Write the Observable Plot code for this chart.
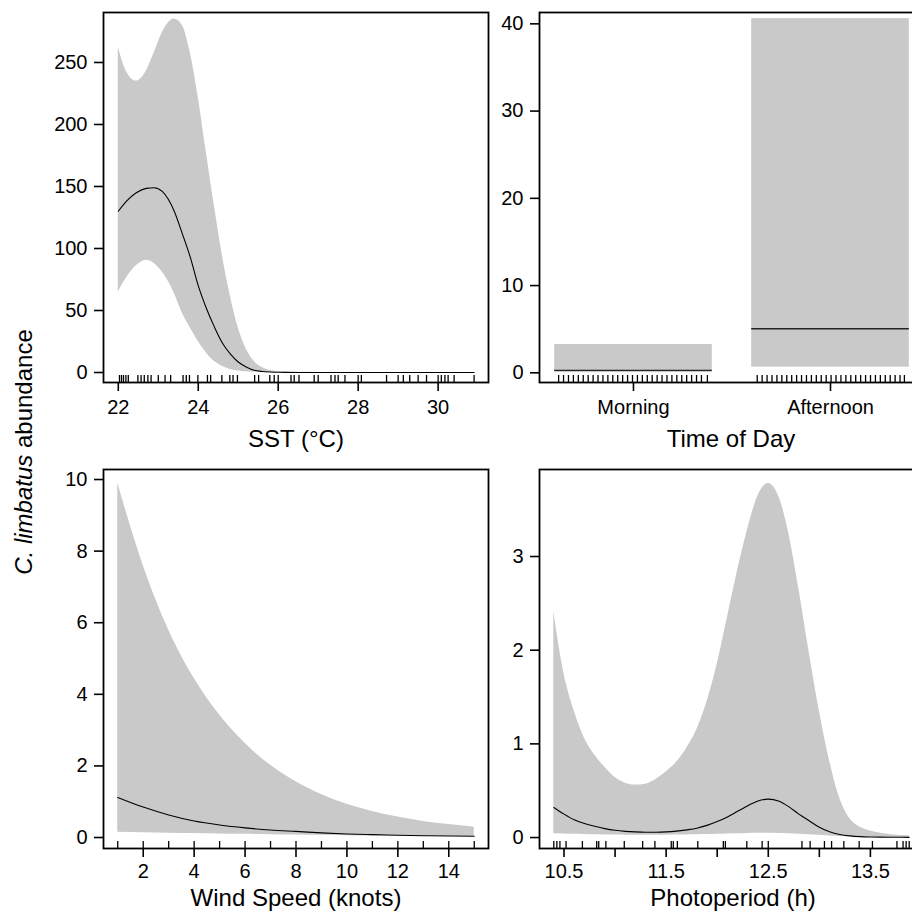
<!DOCTYPE html>
<html>
<head>
<meta charset="utf-8">
<script src="https://cdn.jsdelivr.net/npm/d3@7"></script>
<script src="https://cdn.jsdelivr.net/npm/@observablehq/plot@0.6"></script>
<style>
html, body { margin: 0; padding: 0; background: #fff; overflow: hidden; }
#fig { position: relative; width: 912px; height: 916px; overflow: hidden; background: #fff;
       font-family: "Liberation Sans", Arial, Helvetica, sans-serif; }
#fig svg { position: absolute; max-width: none !important; }
#fig g[aria-label="x-axis tick"] path, #fig g[aria-label="y-axis tick"] path { stroke-width: 1.6px; }
</style>
</head>
<body>
<div id="fig"></div>
<script>
// ---------------- DATA ----------------
// Panel 1: SST (°C)
const sstX     = [22.0, 22.2, 22.45, 22.7, 22.9, 23.1, 23.4, 23.6, 23.8, 24.0, 24.2, 24.4, 24.6, 24.8, 25.0, 25.2, 25.4, 25.6, 25.8, 26.0, 26.5, 27.0, 28.0, 29.0, 30.0, 30.9];
const sstFit   = [130, 138, 145, 148.5, 149, 146, 130, 112, 93, 70, 52, 37, 24, 15, 8.5, 4.5, 1.8, 0.8, 0.35, 0.15, 0.05, 0.02, 0, 0, 0, 0];
const sstLower = [65, 76, 86, 90.5, 88, 81, 64, 48, 36, 25, 16, 9, 5, 2.5, 1.2, 0.6, 0.3, 0.12, 0.05, 0.02, 0, 0, 0, 0, 0, 0];
const sstUpper = [262, 243, 235, 243, 258, 274, 285, 280, 258, 222, 178, 135, 95, 62, 36, 19, 9, 4, 1.6, 0.7, 0.15, 0.05, 0.02, 0.02, 0.02, 0.02];
const sstRug   = [22.03, 22.08, 22.13, 22.19, 22.25, 22.49, 22.57, 22.65, 22.74, 22.82, 23.00, 23.17, 23.31, 23.62, 23.70, 23.78, 23.99,
                  24.23, 24.31, 24.59, 24.79, 24.87, 24.98, 25.41, 25.51, 25.79, 25.90, 26.00, 26.32, 26.40, 26.52, 26.90, 27.00,
                  27.32, 27.42, 27.50, 27.67, 28.00, 28.08, 28.71, 29.00, 29.13, 29.29, 29.50, 29.71, 30.00, 30.08, 30.17, 30.25, 30.40, 30.90];
const sstXTicks = [22, 24, 26, 28, 30];
const sstYTicks = [0, 50, 100, 150, 200, 250];

// Panel 2: Time of Day
const todLevels = ["Morning", "Afternoon"];
const todFit    = [0.27, 5.05];
const todLower  = [0.02, 0.65];
const todUpper  = [3.25, 40.6];
const todRug    = [0.62, 0.645, 0.67, 0.695, 0.72, 0.745, 0.77, 0.795, 0.82, 0.845, 0.87, 0.895, 0.92, 0.945, 0.97, 0.995,
                   1.02, 1.045, 1.07, 1.095, 1.12, 1.145, 1.17, 1.195, 1.22, 1.245, 1.27, 1.295, 1.32, 1.345, 1.375,
                   1.628, 1.653, 1.678, 1.703, 1.728, 1.753, 1.778, 1.803, 1.828, 1.853, 1.878, 1.903, 1.928, 1.953, 1.978,
                   2.003, 2.028, 2.053, 2.078, 2.103, 2.128, 2.153, 2.178, 2.203, 2.228, 2.253, 2.278, 2.303, 2.328, 2.353, 2.375];
const todYTicks = [0, 10, 20, 30, 40];

// Panel 3: Wind Speed (knots)
const windX     = [1, 2, 3, 4, 5, 6, 7, 8, 9, 10, 11, 12, 13, 14, 15];
const windFit   = [1.12, 0.85, 0.63, 0.46, 0.35, 0.27, 0.21, 0.17, 0.13, 0.10, 0.08, 0.065, 0.05, 0.042, 0.035];
const windLower = [0.15, 0.135, 0.12, 0.11, 0.10, 0.09, 0.08, 0.07, 0.06, 0.052, 0.045, 0.038, 0.03, 0.025, 0.02];
const windUpper = [9.9, 7.6, 5.8, 4.45, 3.42, 2.63, 2.02, 1.56, 1.2, 0.93, 0.73, 0.57, 0.45, 0.36, 0.29];
const windRug   = [1, 2, 3, 4, 5, 6, 7, 8, 9, 10, 11, 12, 13, 14, 15];
const windXTicks = [2, 4, 6, 8, 10, 12, 14];
const windYTicks = [0, 2, 4, 6, 8, 10];

// Panel 4: Photoperiod (h)
const photoX     = [10.4, 10.5, 10.6, 10.7, 10.8, 10.9, 11.0, 11.1, 11.2, 11.3, 11.4, 11.5, 11.6, 11.7, 11.8, 11.9, 12.0, 12.1,
                    12.2, 12.3, 12.4, 12.5, 12.6, 12.7, 12.8, 12.9, 13.0, 13.1, 13.2, 13.3, 13.4, 13.5, 13.6, 13.7, 13.88];
const photoFit   = [0.32, 0.25, 0.19, 0.15, 0.12, 0.095, 0.077, 0.066, 0.06, 0.057, 0.057, 0.06, 0.068, 0.082, 0.10, 0.13, 0.17, 0.22,
                    0.28, 0.34, 0.39, 0.41, 0.39, 0.33, 0.25, 0.18, 0.11, 0.062, 0.033, 0.018, 0.010, 0.006, 0.004, 0.003, 0.002];
const photoLower = [0.04, 0.038, 0.035, 0.033, 0.03, 0.028, 0.026, 0.025, 0.025, 0.025, 0.025, 0.025, 0.026, 0.028, 0.03, 0.032, 0.035, 0.038,
                    0.04, 0.043, 0.045, 0.045, 0.043, 0.04, 0.035, 0.03, 0.024, 0.017, 0.012, 0.008, 0.005, 0.003, 0.002, 0.0015, 0.001];
const photoUpper = [2.41, 1.75, 1.35, 1.06, 0.88, 0.75, 0.64, 0.58, 0.56, 0.57, 0.62, 0.70, 0.80, 0.95, 1.15, 1.45, 1.85, 2.35,
                    2.85, 3.30, 3.65, 3.78, 3.65, 3.25, 2.65, 1.98, 1.35, 0.82, 0.42, 0.20, 0.11, 0.07, 0.045, 0.03, 0.02];
const photoRug   = [10.40, 10.43, 10.46, 10.52, 10.68, 10.82, 10.84, 10.91, 11.09, 11.27, 11.39, 11.55, 11.57, 11.61, 11.81, 12.06, 12.08,
                    12.29, 12.44, 12.50, 12.83, 12.91, 13.05, 13.12, 13.24, 13.39, 13.52, 13.76, 13.82, 13.85, 13.88];
const photoXTicks  = [10.5, 11, 11.5, 12, 12.5, 13, 13.5, 14];
const photoXLabels = [10.5, 11.5, 12.5, 13.5];
const photoYTicks  = [0, 1, 2, 3];

// Titles
const xTitles = ["SST (°C)", "Time of Day", "Wind Speed (knots)", "Photoperiod (h)"];
const yTitleItalic = "C. limbatus";
const yTitleRest = " abundance";

// ---------------- DRAWING ----------------
const BAND = "#c9c9c9";
const style = {fontSize: "20px", fontFamily: "'Liberation Sans', Arial, Helvetica, sans-serif", background: "transparent", overflow: "visible", color: "black"};
const fig = document.getElementById("fig");
const zip = (xs, f, lo, hi) => xs.map((x, i) => ({x, fit: f[i], lo: lo[i], hi: hi[i]}));
const intFmt = d => String(d);

function place(svg, left, top) {
  svg.style.left = left + "px";
  svg.style.top = top + "px";
  fig.appendChild(svg);
}

function rug(values, frameH) {
  return Plot.ruleX(values, {x: d => d, insetTop: frameH - 7, stroke: "black", strokeWidth: 1.3});
}

// Panel 1
{
  const data = zip(sstX, sstFit, sstLower, sstUpper);
  const h = 430, mt = 12, mb = 48;
  place(Plot.plot({
    width: 500, height: h, marginLeft: 103, marginRight: 12, marginTop: mt, marginBottom: mb, style,
    x: {domain: [21.63, 31.26], ticks: sstXTicks, tickFormat: intFmt, tickSize: 9, tickPadding: 8, label: null},
    y: {domain: [-8.06, 290.3], ticks: sstYTicks, tickFormat: intFmt, tickSize: 9, tickPadding: 7, label: null},
    marks: [
      Plot.areaY(data, {x: "x", y1: "lo", y2: "hi", fill: BAND, curve: "monotone-x"}),
      Plot.lineY(data, {x: "x", y: "fit", stroke: "black", strokeWidth: 1.1, curve: "monotone-x"}),
      rug(sstRug, h - mt - mb),
      Plot.frame({stroke: "black", strokeWidth: 1.8})
    ]
  }), 0, 0);
}

// Panel 2
{
  const data = todLevels.map((lev, i) => ({pos: i + 1, lev, fit: todFit[i], lo: todLower[i], hi: todUpper[i]}));
  const h = 430, mt = 12, mb = 48;
  place(Plot.plot({
    width: 500, height: h, marginLeft: 99, marginRight: 17, marginTop: mt, marginBottom: mb, style,
    x: {domain: [0.523, 2.472], ticks: [1, 2], tickFormat: d => todLevels[d - 1], tickSize: 9, tickPadding: 8, label: null},
    y: {domain: [-1.11, 41.3], ticks: todYTicks, tickFormat: intFmt, tickSize: 9, tickPadding: 7, label: null},
    marks: [
      Plot.rect(data, {x1: d => d.pos - 0.4, x2: d => d.pos + 0.4, y1: "lo", y2: "hi", fill: BAND}),
      Plot.ruleY(data, {x1: d => d.pos - 0.4, x2: d => d.pos + 0.4, y: "fit", stroke: "#222", strokeWidth: 1.3}),
      rug(todRug, h - mt - mb),
      Plot.frame({stroke: "black", strokeWidth: 1.8})
    ]
  }), 440, 0);
}

// Panel 3
{
  const data = zip(windX, windFit, windLower, windUpper);
  const h = 440, mt = 29, mb = 32;
  place(Plot.plot({
    width: 500, height: h, marginLeft: 103, marginRight: 12, marginTop: mt, marginBottom: mb, style,
    x: {domain: [0.44, 15.56], ticks: windXTicks, tickFormat: intFmt, tickSize: 9, tickPadding: 6, label: null},
    y: {domain: [-0.307, 10.28], ticks: windYTicks, tickFormat: intFmt, tickSize: 9, tickPadding: 7, label: null},
    marks: [
      Plot.areaY(data, {x: "x", y1: "lo", y2: "hi", fill: BAND, curve: "monotone-x"}),
      Plot.lineY(data, {x: "x", y: "fit", stroke: "black", strokeWidth: 1.1, curve: "monotone-x"}),
      rug(windRug, h - mt - mb),
      Plot.frame({stroke: "black", strokeWidth: 1.8})
    ]
  }), 0, 440);
}

// Panel 4
{
  const data = zip(photoX, photoFit, photoLower, photoUpper);
  const h = 440, mt = 29, mb = 32;
  place(Plot.plot({
    width: 500, height: h, marginLeft: 99, marginRight: 17, marginTop: mt, marginBottom: mb, style,
    x: {domain: [10.26, 14.02], ticks: photoXTicks, tickFormat: d => photoXLabels.includes(d) ? d.toFixed(1) : "", tickSize: 9, tickPadding: 6, label: null},
    y: {domain: [-0.117, 3.929], ticks: photoYTicks, tickFormat: intFmt, tickSize: 9, tickPadding: 7, label: null},
    marks: [
      Plot.areaY(data, {x: "x", y1: "lo", y2: "hi", fill: BAND, curve: "monotone-x"}),
      Plot.lineY(data, {x: "x", y: "fit", stroke: "black", strokeWidth: 1.1, curve: "monotone-x"}),
      rug(photoRug, h - mt - mb),
      Plot.frame({stroke: "black", strokeWidth: 1.8})
    ]
  }), 440, 440);
}

// Titles overlay
{
  const svg = d3.create("svg").attr("width", 912).attr("height", 916)
    .style("left", "0px").style("top", "0px").style("pointer-events", "none")
    .attr("font-family", "'Liberation Sans', Arial, Helvetica, sans-serif");
  const pos = [[296, 447], [731, 447], [296, 906], [733, 906]];
  xTitles.forEach((t, i) => {
    svg.append("text").attr("x", pos[i][0]).attr("y", pos[i][1]).attr("text-anchor", "middle")
      .attr("font-size", 24).attr("fill", "black").text(t);
  });
  const yt = svg.append("text").attr("transform", "translate(32,452) rotate(-90)")
    .attr("text-anchor", "middle").attr("font-size", 24).attr("fill", "black");
  yt.append("tspan").attr("font-style", "italic").text(yTitleItalic);
  yt.append("tspan").text(yTitleRest);
  fig.appendChild(svg.node());
}
</script>
</body>
</html>
